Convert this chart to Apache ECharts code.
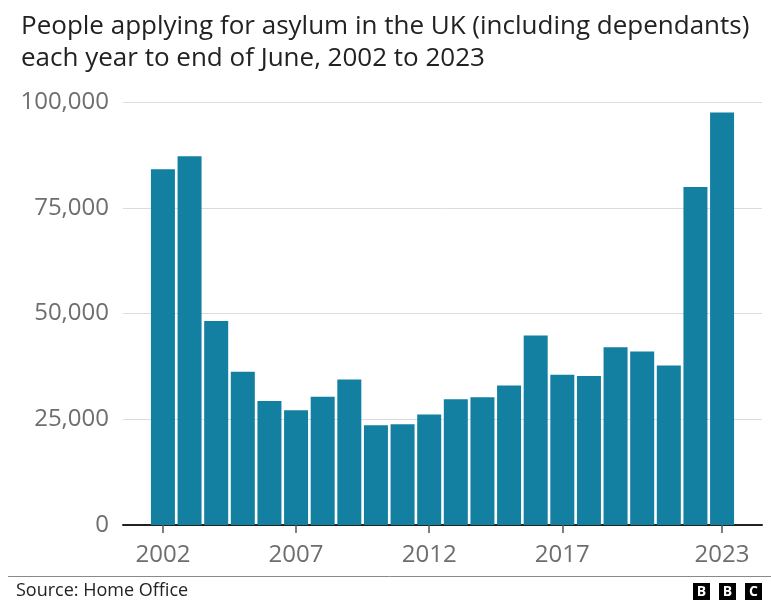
<!DOCTYPE html>
<html>
<head>
<meta charset="utf-8">
<script src="https://cdn.jsdelivr.net/npm/echarts@6/dist/echarts.min.js"></script>
<style>html,body{margin:0;padding:0;background:#fff}#c{width:771px;height:600px}</style>
</head>
<body>
<div id="c"></div>
<script>
const years = [2002,2003,2004,2005,2006,2007,2008,2009,2010,2011,2012,2013,2014,2015,2016,2017,2018,2019,2020,2021,2022,2023];
const applications = [84100,87200,48200,36200,29300,27100,30300,34400,23600,23800,26100,29700,30200,33000,44800,35500,35200,42000,41000,37700,79900,97500];
const xTickLabels = [2002,2007,2012,2017,2023];
const titleText = "People applying for asylum in the UK (including dependants)\neach year to end of June, 2002 to 2023";
const sourceText = "Source: Home Office";

const FONT = "'Open Sans', sans-serif";
const chart = echarts.init(document.getElementById('c'), null, {renderer:'canvas'});
chart.setOption({
  animation:false,
  title:{
    text:titleText, left:16, top:6,
    textStyle:{fontFamily:FONT, fontSize:26, fontWeight:'normal', color:'#222', lineHeight:32}
  },
  grid:{left:123, right:9, top:102, bottom:75, containLabel:false},
  xAxis:{
    type:'value', min:2000.5, max:2024.5,
    splitLine:{show:false},
    axisLine:{show:true, lineStyle:{color:'#222', width:2}},
    axisTick:{show:true, customValues:xTickLabels, length:8, lineStyle:{color:'#555', width:1.5}},
    axisLabel:{customValues:xTickLabels, fontFamily:FONT, fontSize:24, color:'#6e6e6e', margin:18,
      formatter:v=>String(v)}
  },
  yAxis:{
    type:'value', min:0, max:100000, interval:25000,
    axisLine:{show:false}, axisTick:{show:false},
    splitLine:{lineStyle:{color:'#dcdcdc', width:1}},
    axisLabel:{fontFamily:FONT, fontSize:24, color:'#6e6e6e', margin:14,
      formatter:v=>v.toLocaleString('en-GB')}
  },
  series:[{
    type:'bar',
    data:years.map((y,i)=>[y, applications[i]]),
    barWidth:24,
    itemStyle:{color:'#1380A1'},
    z:1
  }],
  graphic:[
    {type:'line', shape:{x1:8,y1:576.5,x2:771,y2:576.5}, style:{stroke:'#8a8a8a', lineWidth:1}},
    {type:'text', left:16, top:582, style:{text:sourceText, font:"18px 'Open Sans', sans-serif", fill:'#222'}},
    {type:'group', left:693, top:583, children:[
      {type:'rect', shape:{x:0,y:0,width:17,height:17}, style:{fill:'#000'}},
      {type:'rect', shape:{x:26,y:0,width:17,height:17}, style:{fill:'#000'}},
      {type:'rect', shape:{x:52,y:0,width:17,height:17}, style:{fill:'#000'}},
      {type:'text', x:8.5, y:9, style:{text:'B', fill:'#fff', font:"bold 14px 'Open Sans', sans-serif", align:'center', verticalAlign:'middle'}},
      {type:'text', x:34.5, y:9, style:{text:'B', fill:'#fff', font:"bold 14px 'Open Sans', sans-serif", align:'center', verticalAlign:'middle'}},
      {type:'text', x:60.5, y:9, style:{text:'C', fill:'#fff', font:"bold 14px 'Open Sans', sans-serif", align:'center', verticalAlign:'middle'}}
    ]}
  ]
});
</script>
</body>
</html>
